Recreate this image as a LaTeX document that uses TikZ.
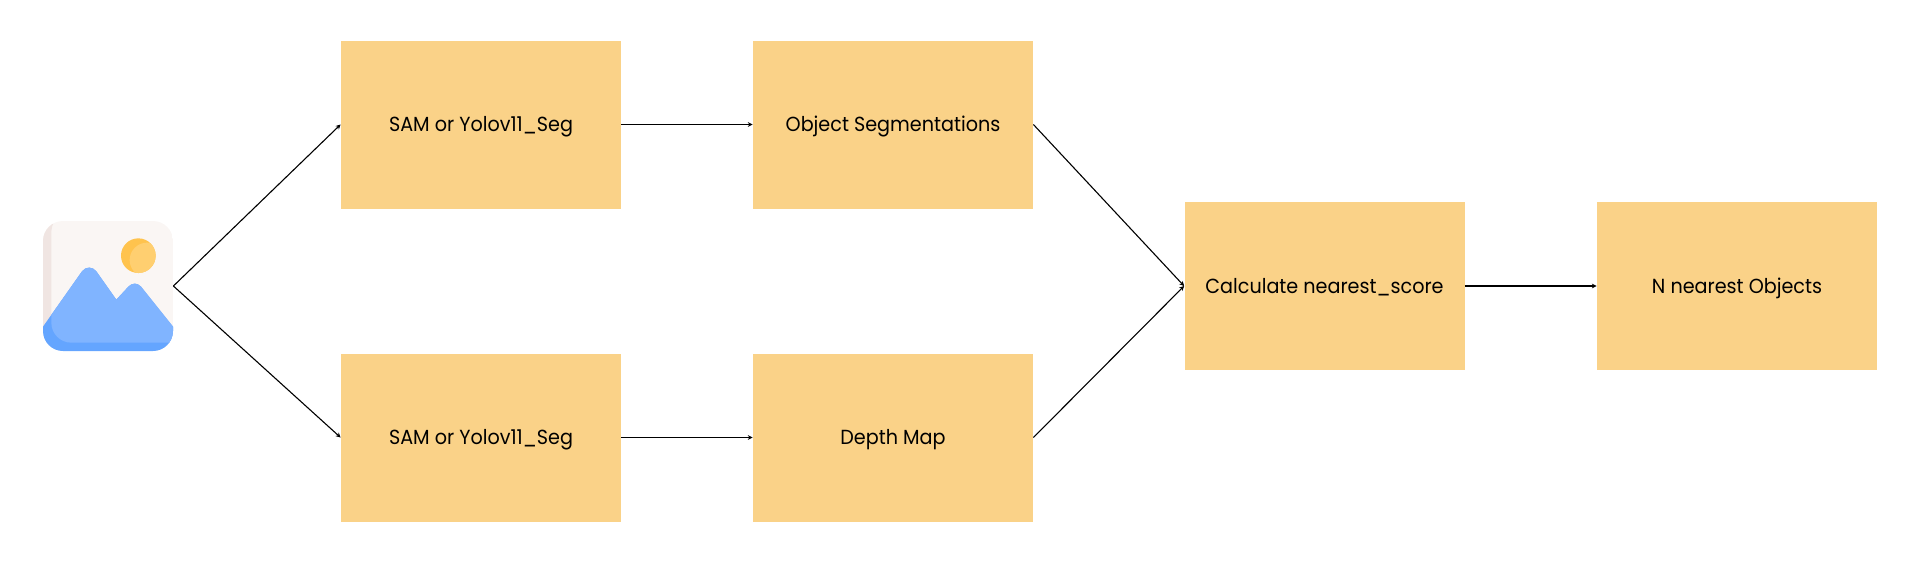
\documentclass[tikz,border=0pt]{standalone}
\usepackage{fontspec}
\setmainfont[FakeStretch=0.94]{Poppins}
\usetikzlibrary{arrows.meta}
\definecolor{boxfill}{HTML}{FAD288}
\definecolor{iconbg}{HTML}{FAF6F4}
\definecolor{iconstrip}{HTML}{F0E5E2}
\definecolor{mountain}{HTML}{80B4FF}
\definecolor{mountaindark}{HTML}{64A5FF}
\definecolor{sunout}{HTML}{FFC34D}
\definecolor{sunin}{HTML}{FFCF70}
\tikzset{
  stepbox/.style={rectangle,fill=boxfill,minimum width=140pt,minimum height=84pt,inner sep=0pt,text=black,text height=7.1pt,text depth=0pt,font=\fontsize{10.2}{12}\selectfont},
  conn/.style={draw=black,line width=0.55pt,-{Stealth[length=2.4pt,width=2.4pt]}},
  iconnode/.style={rectangle,minimum width=65pt,minimum height=65pt,inner sep=0pt}
}
\begin{document}
\begin{tikzpicture}[x=0.5pt,y=-0.5pt]
\useasboundingbox (0,0) rectangle (1920,574);
\node[iconnode] (img) at (108,286) {};
\begin{scope}[shift={(20,200)},x=0.16667pt,y=-0.16667pt]
  \begin{scope}
    \clip[rounded corners=10pt] (69,63) rectangle (459,453);
    \fill[iconbg] (69,63) rectangle (459,453);
    \fill[iconstrip] (69,63) -- (105,63) .. controls (97,72) and (94,85) .. (94,100) -- (94,400) -- (69,400) -- cycle;
    \fill[mountaindark] (69,380) -- (186,214) .. controls (197,199) and (218,199) .. (229,214)
      -- (289,299) -- (326,259) .. controls (337,248) and (352,248) .. (363,260)
      -- (459,380) -- (459,453) -- (69,453) -- cycle;
    \begin{scope}
      \clip (69,380) -- (186,214) .. controls (197,199) and (218,199) .. (229,214)
        -- (289,299) -- (326,259) .. controls (337,248) and (352,248) .. (363,260)
        -- (459,380) -- (459,453) -- (69,453) -- cycle;
      \fill[mountain,rounded corners=10pt] (94,150) rectangle (520,428);
    \end{scope}
  \end{scope}
  \fill[sunout] (355,167) circle[radius=8.67pt];
  \begin{scope}
    \clip (355,167) circle[radius=8.67pt];
    \fill[sunin] (381,180) circle[radius=8.67pt];
  \end{scope}
\end{scope}
\node[stepbox] (sam1) at (481,124.5) {SAM or Yolov11\_Seg};
\node[stepbox] (seg) at (893,124.5) {Object Segmentations};
\node[stepbox] (sam2) at (481,437.5) {SAM or Yolov11\_Seg};
\node[stepbox] (depth) at (893,437.5) {Depth Map};
\node[stepbox] (calc) at (1324.5,286) {Calculate nearest\_score};
\node[stepbox] (near) at (1737,286) {N nearest Objects};
\draw[conn] (img.east) -- (sam1.west);
\draw[conn] (img.east) -- (sam2.west);
\draw[conn] (sam1) -- (seg);
\draw[conn] (sam2) -- (depth);
\draw[conn] (seg.east) -- (calc.west);
\draw[conn] (depth.east) -- (calc.west);
\draw[conn] (calc) -- (near);
\end{tikzpicture}
\end{document}
